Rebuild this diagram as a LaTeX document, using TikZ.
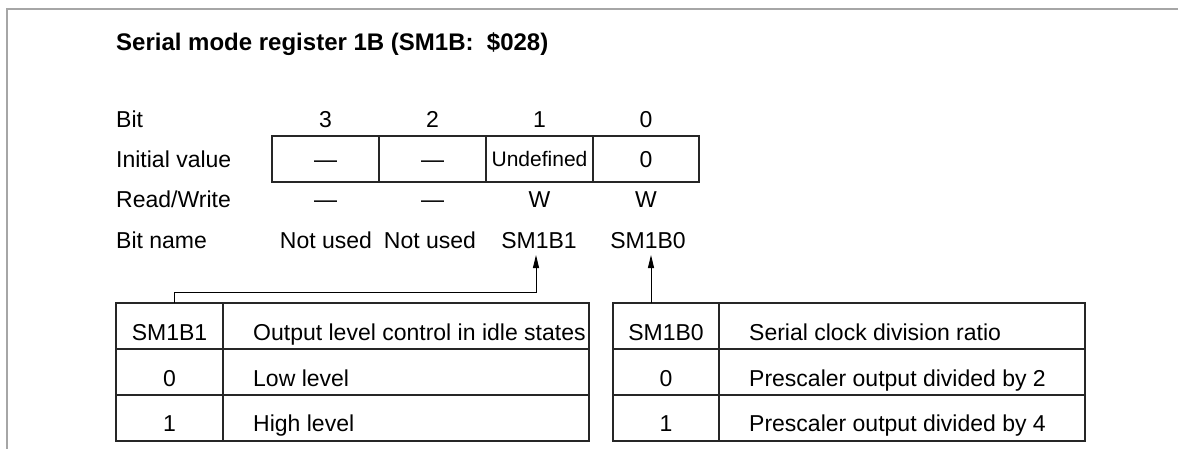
\documentclass[tikz,border=0pt]{standalone}
\usepackage{fontspec}
\setmainfont{Liberation Sans}
\usetikzlibrary{arrows.meta}
\begin{document}
\begin{tikzpicture}[x=1pt,y=-1pt,
  txt/.style={inner sep=0pt,anchor=base,font=\fontsize{23}{26}\selectfont},
  lbl/.style={txt,anchor=base west},
  cell/.style={draw=black!85,line width=1.2pt},
  frame/.style={draw=black!35,line width=2pt},
  conn/.style={line width=1pt,-{Triangle[length=13pt,width=6pt]}}
]
\useasboundingbox (0,0) rectangle (1178,449);
\draw[frame] (7,449) -- (7,9) -- (1178,9);
\node[lbl,font=\fontsize{24}{28}\selectfont\bfseries] (title) at (116,51) {Serial mode register 1B (SM1B:\ \ \$028)};
% row labels
\node[lbl] (lbit) at (116,128) {Bit};
\node[lbl] (linit) at (116,168) {Initial value};
\node[lbl] (lrw) at (116,208) {Read/Write};
\node[lbl] (lname) at (116,248) {Bit name};
% bit numbers
\node[txt] (b3) at (325.5,128) {3};
\node[txt] (b2) at (432.5,128) {2};
\node[txt] (b1) at (539.5,128) {1};
\node[txt] (b0) at (646,128) {0};
% register box
\draw[cell] (272,136) rectangle (699,182);
\draw[cell] (379,136) -- (379,182) (486,136) -- (486,182) (593,136) -- (593,182);
\node[txt] (i3) at (325.5,168) {---};
\node[txt] (i2) at (432.5,168) {---};
\node[txt,font=\fontsize{21}{24}\selectfont] (i1) at (539.5,167) {Undefined};
\node[txt] (i0) at (646,168) {0};
% read/write
\node[txt] (r3) at (325.5,208) {---};
\node[txt] (r2) at (432.5,208) {---};
\node[txt] (r1) at (539.5,208) {W};
\node[txt] (r0) at (646,208) {W};
% names
\node[txt] (n3) at (326,248) {Not used};
\node[txt] (n2) at (430,248) {Not used};
\node[txt] (n1) at (539,248) {SM1B1};
\node[txt] (n0) at (648,248) {SM1B0};
% left table
\draw[cell] (116,303) rectangle (589,441);
\draw[cell] (223,303) -- (223,441) (116,349) -- (589,349) (116,395) -- (589,395);
\node[txt] (lh1) at (169.5,340) {SM1B1};
\node[lbl] (lh2) at (253,340) {Output level control in idle states};
\node[txt] (l01) at (169.5,386) {0};
\node[lbl] (l02) at (253,386) {Low level};
\node[txt] (l11) at (169.5,431) {1};
\node[lbl] (l12) at (253,431) {High level};
\coordinate (ltop) at (174,303);
\coordinate (lbend) at (174,292);
% right table
\draw[cell] (613,303) rectangle (1085,441);
\draw[cell] (719,303) -- (719,441) (613,349) -- (1085,349) (613,395) -- (1085,395);
\node[txt] (rh1) at (666,340) {SM1B0};
\node[lbl] (rh2) at (749,340) {Serial clock division ratio};
\node[txt] (r01) at (666,386) {0};
\node[lbl] (r02) at (749,386) {Prescaler output divided by 2};
\node[txt] (r11) at (666,431) {1};
\node[lbl] (r12) at (749,431) {Prescaler output divided by 4};
\coordinate (rtop) at (651,303);
% arrow tips
\coordinate (t1) at (536,255);
\coordinate (t0) at (651,255);
% connectors
\draw[conn] (ltop) -- (lbend) -| (t1);
\draw[conn] (rtop) -- (t0);
\end{tikzpicture}
\end{document}
